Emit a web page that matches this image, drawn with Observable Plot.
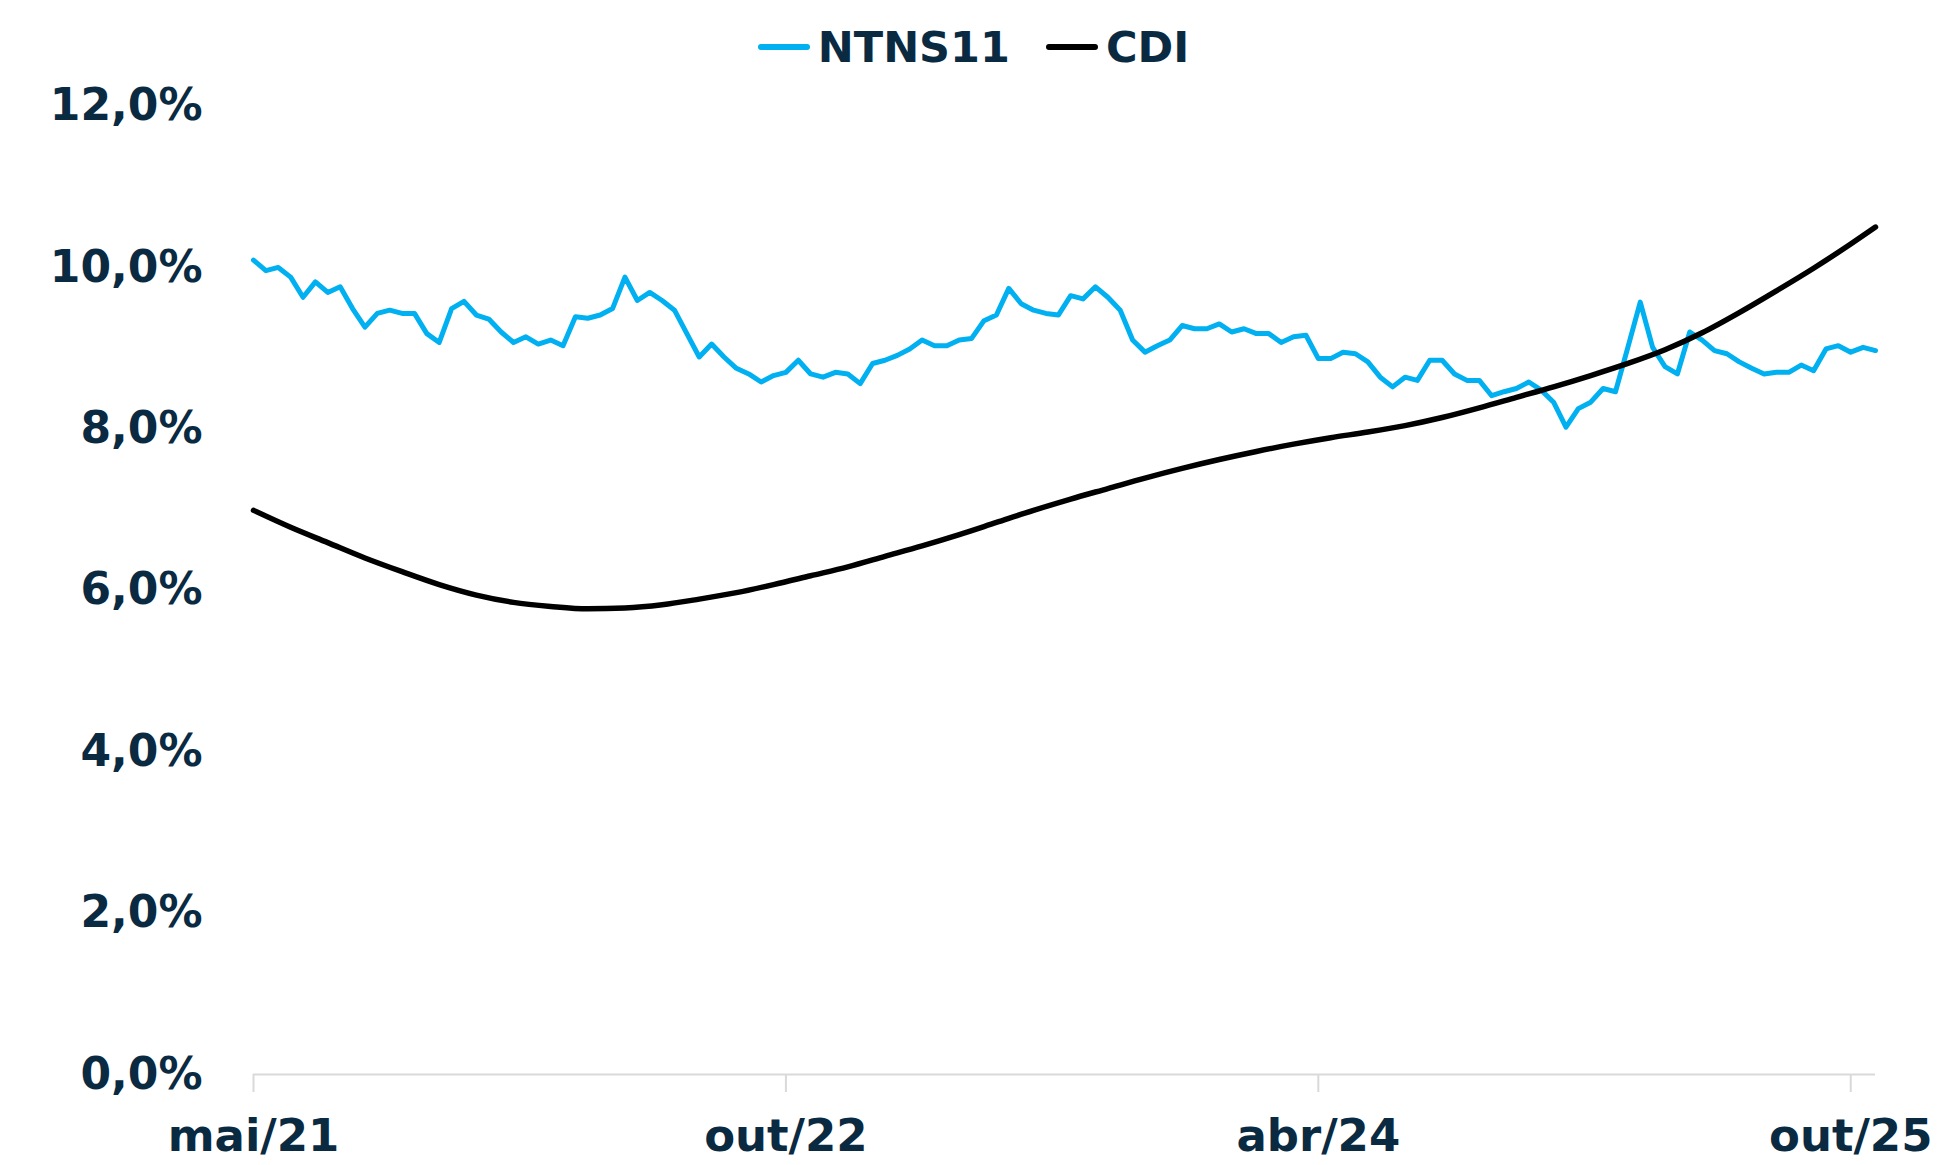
<!DOCTYPE html>
<html><head><meta charset="utf-8">
<script src="https://cdn.jsdelivr.net/npm/d3@7"></script>
<script src="https://cdn.jsdelivr.net/npm/@observablehq/plot@0.6"></script>
<style>
body{margin:0;background:#fff;}
#legend{height:70px;margin-top:12px;display:flex;justify-content:center;align-items:center;gap:36px;font-family:"DejaVu Sans",sans-serif;font-weight:bold;font-size:43px;color:#0a2a42;}
.item{display:flex;align-items:center;gap:8px;}
.sw{width:52px;height:6px;border-radius:3px;}
g[aria-label="x-axis tick"]{stroke:#d9d9d9;}
</style></head><body>
<div id="legend"></div><div id="chart"></div>
<script>
const seriesNames = ["NTNS11", "CDI"];
const seriesColors = ["#00b0f0", "#000000"];
const xTickIndex = [0, 43, 86, 129];
const xTickLabels = ["mai/21", "out/22", "abr/24", "out/25"];
const yTicks = [0, 2, 4, 6, 8, 10, 12];

// NTNS11 yield (%), one value per period index 0..131
const ntns11 = [
  10.09, 9.96, 10.00, 9.88, 9.63, 9.82, 9.69, 9.76, 9.49, 9.26,
  9.43, 9.47, 9.43, 9.43, 9.18, 9.07, 9.49, 9.58, 9.41, 9.36,
  9.20, 9.07, 9.14, 9.05, 9.10, 9.03, 9.39, 9.37, 9.41, 9.49,
  9.88, 9.59, 9.69, 9.59, 9.47, 9.18, 8.89, 9.05, 8.89, 8.75,
  8.68, 8.58, 8.66, 8.70, 8.85, 8.68, 8.64, 8.70, 8.68, 8.56,
  8.81, 8.85, 8.91, 8.99, 9.10, 9.03, 9.03, 9.10, 9.12, 9.34,
  9.41, 9.74, 9.55, 9.47, 9.43, 9.41, 9.65, 9.61, 9.76, 9.63,
  9.47, 9.10, 8.95, 9.03, 9.10, 9.28, 9.24, 9.24, 9.30, 9.20,
  9.24, 9.18, 9.18, 9.07, 9.14, 9.16, 8.87, 8.87, 8.95, 8.93,
  8.83, 8.64, 8.52, 8.64, 8.60, 8.85, 8.85, 8.68, 8.60, 8.60,
  8.41, 8.46, 8.50, 8.58, 8.48, 8.33, 8.02, 8.25, 8.33, 8.50,
  8.46, 9.01, 9.57, 9.01, 8.77, 8.68, 9.20, 9.10, 8.97, 8.93,
  8.83, 8.75, 8.68, 8.70, 8.70, 8.79, 8.72, 8.99, 9.03, 8.95,
  9.01, 8.97
];

// CDI (%), sampled at these period indices
const cdiIndex = [0, 3, 6, 9, 12, 15, 18, 21, 24, 27, 30, 33, 36, 39, 42, 45, 48, 51, 54, 57,
  60, 63, 66, 69, 72, 75, 78, 81, 84, 87, 90, 93, 96, 99, 102, 105, 108, 111, 114, 117,
  120, 123, 126, 129, 131];
const cdi = [6.99, 6.78, 6.59, 6.40, 6.23, 6.07, 5.94, 5.85, 5.80, 5.77, 5.78, 5.82, 5.89, 5.97, 6.07, 6.18, 6.29, 6.42, 6.55, 6.69,
  6.84, 6.99, 7.13, 7.26, 7.39, 7.51, 7.62, 7.72, 7.81, 7.89, 7.96, 8.04, 8.14, 8.26, 8.39, 8.52, 8.66, 8.81, 8.98, 9.19,
  9.44, 9.71, 9.99, 10.29, 10.50];

const ntnsData = ntns11.map((v, i) => ({i, v}));
const cdiData = cdi.map((v, k) => ({i: cdiIndex[k], v}));

// legend
const leg = document.getElementById("legend");
seriesNames.forEach((n, k) => {
  const it = document.createElement("div"); it.className = "item";
  const sw = document.createElement("div"); sw.className = "sw"; sw.style.background = seriesColors[k];
  const t = document.createElement("span"); t.textContent = n;
  it.appendChild(sw); it.appendChild(t); leg.appendChild(it);
});

const chart = Plot.plot({
  width: 1947, height: 1083,
  marginTop: 23.5, marginBottom: 91, marginLeft: 253, marginRight: 72,
  style: {fontFamily: "DejaVu Sans, sans-serif", fontWeight: "bold", fontSize: "44px", color: "#0a2a42", background: "#fff", overflow: "visible"},
  x: {domain: [0, 131], axis: null},
  y: {domain: [0, 12], axis: null},
  marks: [
    Plot.axisY({ticks: yTicks, tickSize: 0, tickPadding: 51, fontSize: 44, tickFormat: d => d.toFixed(1).replace(".", ",") + "%", label: null}),
    Plot.axisX({ticks: xTickIndex, tickSize: 18, tickPadding: 27, fontSize: 45, stroke: "#d9d9d9", strokeWidth: 2, tickFormat: d => xTickLabels[xTickIndex.indexOf(d)], label: null}),
    Plot.ruleY([0], {stroke: "#d9d9d9", strokeWidth: 2}),
    Plot.line(ntnsData, {x: "i", y: "v", stroke: seriesColors[0], strokeWidth: 5, strokeLinejoin: "round", strokeLinecap: "round"}),
    Plot.line(cdiData, {x: "i", y: "v", stroke: seriesColors[1], strokeWidth: 5.5, strokeLinecap: "round", curve: "monotone-x"})
  ]
});
document.getElementById("chart").appendChild(chart);
</script>
</body></html>
